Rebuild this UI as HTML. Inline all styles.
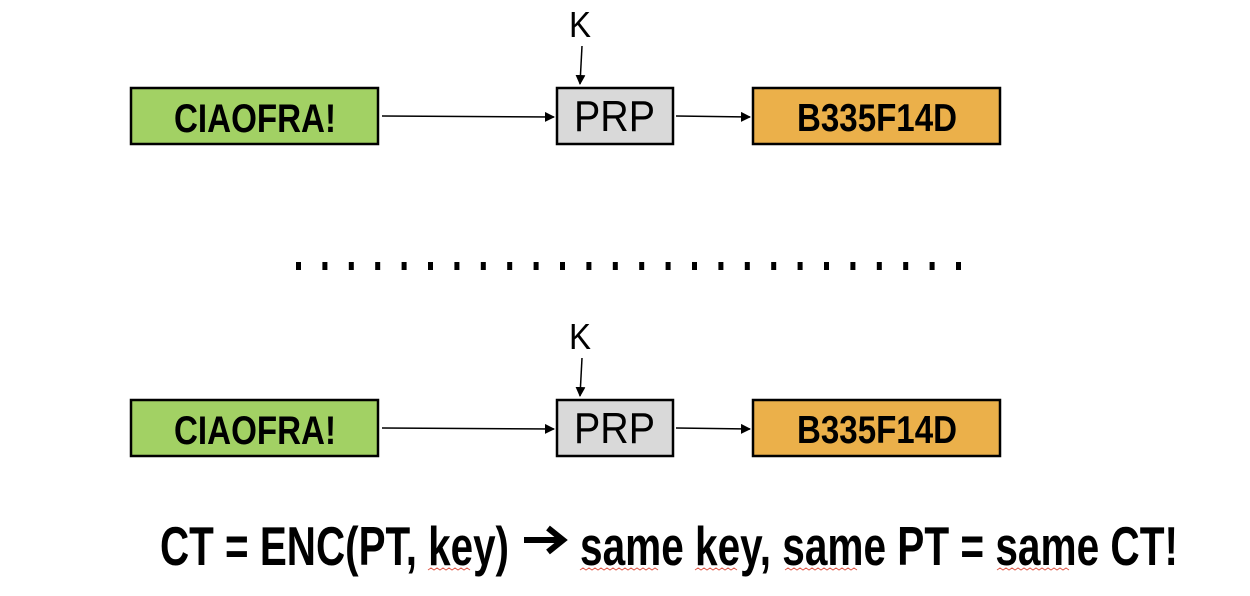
<!DOCTYPE html>
<html><head><meta charset="utf-8"><style>
html,body{margin:0;padding:0;background:#fff;}
svg{display:block;}
</style></head><body>
<svg width="1250" height="596" viewBox="0 0 1250 596" xmlns="http://www.w3.org/2000/svg" font-family="Liberation Sans, Arial, sans-serif">
<defs>
<marker id="ah" markerWidth="10" markerHeight="10" refX="9" refY="5" orient="auto" markerUnits="userSpaceOnUse">
<path d="M0,0 L10,5 L0,10 z" fill="#000"/>
</marker>
</defs>
<g id="row1">
<rect x="131" y="88" width="247" height="56" fill="#a2d164" stroke="#000" stroke-width="2.5"/>
<text x="174" y="132" font-size="40" font-weight="bold" textLength="162" lengthAdjust="spacingAndGlyphs">CIAOFRA!</text>
<line x1="382" y1="116" x2="554" y2="117" stroke="#000" stroke-width="1.5" marker-end="url(#ah)"/>
<rect x="557" y="88" width="116" height="56" fill="#d9d9d9" stroke="#000" stroke-width="2.5"/>
<text x="574" y="131" font-size="44" textLength="81" lengthAdjust="spacingAndGlyphs">PRP</text>
<text x="569" y="37" font-size="36" textLength="22" lengthAdjust="spacingAndGlyphs">K</text>
<line x1="582" y1="46" x2="580" y2="84" stroke="#000" stroke-width="1.5" marker-end="url(#ah)"/>
<line x1="676" y1="116" x2="750" y2="117" stroke="#000" stroke-width="1.5" marker-end="url(#ah)"/>
<rect x="753" y="88" width="247" height="56" fill="#ebb04a" stroke="#000" stroke-width="2.5"/>
<text x="797" y="131" font-size="39" font-weight="bold" textLength="160" lengthAdjust="spacingAndGlyphs">B335F14D</text>
</g>
<g>
<rect x="131" y="400" width="247" height="56" fill="#a2d164" stroke="#000" stroke-width="2.5"/>
<text x="174" y="444" font-size="40" font-weight="bold" textLength="162" lengthAdjust="spacingAndGlyphs">CIAOFRA!</text>
<line x1="382" y1="428" x2="554" y2="429" stroke="#000" stroke-width="1.5" marker-end="url(#ah)"/>
<rect x="557" y="400" width="116" height="56" fill="#d9d9d9" stroke="#000" stroke-width="2.5"/>
<text x="574" y="443" font-size="44" textLength="81" lengthAdjust="spacingAndGlyphs">PRP</text>
<text x="569" y="349" font-size="36" textLength="22" lengthAdjust="spacingAndGlyphs">K</text>
<line x1="582" y1="358" x2="580" y2="396" stroke="#000" stroke-width="1.5" marker-end="url(#ah)"/>
<line x1="676" y1="428" x2="750" y2="429" stroke="#000" stroke-width="1.5" marker-end="url(#ah)"/>
<rect x="753" y="400" width="247" height="56" fill="#ebb04a" stroke="#000" stroke-width="2.5"/>
<text x="797" y="443" font-size="39" font-weight="bold" textLength="160" lengthAdjust="spacingAndGlyphs">B335F14D</text>
</g>
<g fill="#000">
<rect x="296" y="262" width="5" height="8"/><rect x="322.4" y="262" width="5" height="8"/><rect x="348.8" y="262" width="5" height="8"/><rect x="375.2" y="262" width="5" height="8"/><rect x="401.6" y="262" width="5" height="8"/><rect x="428" y="262" width="5" height="8"/><rect x="454.4" y="262" width="5" height="8"/><rect x="480.8" y="262" width="5" height="8"/><rect x="507.2" y="262" width="5" height="8"/><rect x="533.6" y="262" width="5" height="8"/><rect x="560" y="262" width="5" height="8"/><rect x="586.4" y="262" width="5" height="8"/><rect x="612.8" y="262" width="5" height="8"/><rect x="639.2" y="262" width="5" height="8"/><rect x="665.6" y="262" width="5" height="8"/><rect x="692" y="262" width="5" height="8"/><rect x="718.4" y="262" width="5" height="8"/><rect x="744.8" y="262" width="5" height="8"/><rect x="771.2" y="262" width="5" height="8"/><rect x="797.6" y="262" width="5" height="8"/><rect x="824" y="262" width="5" height="8"/><rect x="850.4" y="262" width="5" height="8"/><rect x="876.8" y="262" width="5" height="8"/><rect x="903.2" y="262" width="5" height="8"/><rect x="929.6" y="262" width="5" height="8"/><rect x="956" y="262" width="5" height="8"/>
</g>
<text x="160" y="565" font-size="55" font-weight="bold" textLength="349" lengthAdjust="spacingAndGlyphs">CT = ENC(PT, key)</text>
<path d="M524,540 L562,540 M548,528 L563,540 L548,552" fill="none" stroke="#000" stroke-width="6" stroke-linecap="butt" stroke-linejoin="miter"/>
<text x="580" y="565" font-size="55" font-weight="bold" textLength="598" lengthAdjust="spacingAndGlyphs">same key, same PT = same CT!</text>
<g fill="none" stroke="#e05a4a" stroke-width="1">
<path d="M428,570 l3,-2 l3,2 l3,-2 l3,2 l3,-2 l3,2 l3,-2 l3,2 l3,-2 l3,2 l3,-2 l3,2 l3,-2 l3,2"/>
<path d="M580,570 l3,-2 l3,2 l3,-2 l3,2 l3,-2 l3,2 l3,-2 l3,2 l3,-2 l3,2 l3,-2 l3,2 l3,-2 l3,2 l3,-2 l3,2 l3,-2 l3,2 l3,-2 l3,2 l3,-2 l3,2 l3,-2 l3,2 l3,-2 l3,2"/>
<path d="M695,570 l3,-2 l3,2 l3,-2 l3,2 l3,-2 l3,2 l3,-2 l3,2 l3,-2 l3,2 l3,-2 l3,2 l3,-2 l3,2"/>
<path d="M785,570 l3,-2 l3,2 l3,-2 l3,2 l3,-2 l3,2 l3,-2 l3,2 l3,-2 l3,2 l3,-2 l3,2 l3,-2 l3,2 l3,-2 l3,2 l3,-2 l3,2 l3,-2 l3,2 l3,-2 l3,2 l3,-2 l3,2"/>
<path d="M997,570 l3,-2 l3,2 l3,-2 l3,2 l3,-2 l3,2 l3,-2 l3,2 l3,-2 l3,2 l3,-2 l3,2 l3,-2 l3,2 l3,-2 l3,2 l3,-2 l3,2 l3,-2 l3,2 l3,-2 l3,2 l3,-2 l3,2"/>
</g>
</svg>
</body></html>
